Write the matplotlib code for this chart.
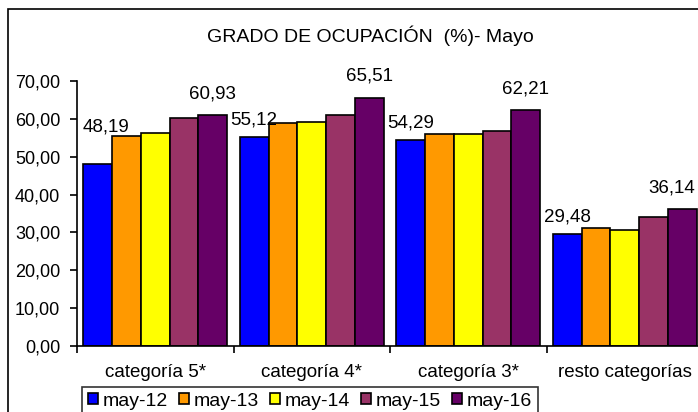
import matplotlib.pyplot as plt
import matplotlib.patches as mpatches
import numpy as np

plt.rcParams['font.family'] = ['Liberation Sans', 'DejaVu Sans']

categories = ["categoría 5*", "categoría 4*", "categoría 3*", "resto categorías"]
series = ["may-12", "may-13", "may-14", "may-15", "may-16"]
may12 = [48.19, 55.12, 54.29, 29.48]
may13 = [55.4, 58.8, 55.9, 31.1]
may14 = [56.3, 59.2, 55.9, 30.6]
may15 = [60.3, 61.1, 56.8, 34.1]
may16 = [60.93, 65.51, 62.21, 36.14]
colors = ["#0000FF", "#FF9900", "#FFFF00", "#993366", "#660066"]

values = [may12, may13, may14, may15, may16]
W, H = 698, 412
fig = plt.figure(figsize=(W / 100, H / 100), dpi=100)

# outer chart frame (cropped on right and bottom)
fig.patches.append(mpatches.Rectangle((8 / W, -0.1), 1.2, 1 - 8.5 / H + 0.1,
                                      transform=fig.transFigure, fill=False,
                                      edgecolor="black", linewidth=1.2))

ax = fig.add_axes([77 / W, 1 - 346 / H, 626 / W, (346 - 81) / H])
x = np.arange(len(categories))
bw = 0.184
bars = []
for i, (vals, col, name) in enumerate(zip(values, colors, series)):
    b = ax.bar(x + (i - 2) * bw, vals, bw, color=col, edgecolor="black",
               linewidth=1.2, label=name, zorder=2)
    bars.append(b)

# labels on first and last series; a few were moved by hand in the original
nudge = {(0, 0): (8, 28), (4, 3): (-11, 13)}
for i in (0, 4):
    for j, rect in enumerate(bars[i]):
        v = values[i][j]
        dx, dy = nudge.get((i, j), (0, 9 if i == 0 else 13))
        ax.annotate(f"{v:.2f}".replace(".", ","),
                    (rect.get_x() + rect.get_width() / 2, v),
                    xytext=(dx * 0.72, dy * 0.72), textcoords="offset points",
                    ha="center", va="bottom", fontsize=13.5, clip_on=False)

ax.set_xlim(-0.5, 3.5)
ax.set_ylim(0, 70)
ax.set_yticks(np.arange(0, 71, 10))
ax.set_yticklabels([f"{v:.2f}".replace(".", ",") for v in np.arange(0, 71, 10)],
                   fontsize=13)
ax.set_xticks(np.arange(-0.5, 4.0, 1.0))
ax.set_xticklabels([])
ax.set_xticks(x, minor=True)
ax.set_xticklabels(categories, minor=True, fontsize=13.5)
ax.tick_params(axis="x", which="minor", length=0, pad=13)
ax.tick_params(axis="x", which="major", length=5, width=1.2, direction="out")
ax.tick_params(axis="y", length=5, width=1.2, direction="out", pad=7)
for s in ("top", "right"):
    ax.spines[s].set_visible(False)
for s in ("left", "bottom"):
    ax.spines[s].set_linewidth(1.2)

fig.text(370 / W, 1 - 36 / H, "GRADO DE OCUPACIÓN  (%)- Mayo", ha="center",
         va="center", fontsize=14)

leg = fig.legend(loc="upper left", bbox_to_anchor=(82 / W, 1 - 387 / H),
                 ncol=5, fontsize=14, frameon=True, fancybox=False,
                 edgecolor="black", handlelength=0.5, handleheight=0.5,
                 handletextpad=0.26, columnspacing=0.57, borderpad=0.3,
                 borderaxespad=0)
leg.get_frame().set_linewidth(1.2)

fig.savefig("out.png", dpi=100)
